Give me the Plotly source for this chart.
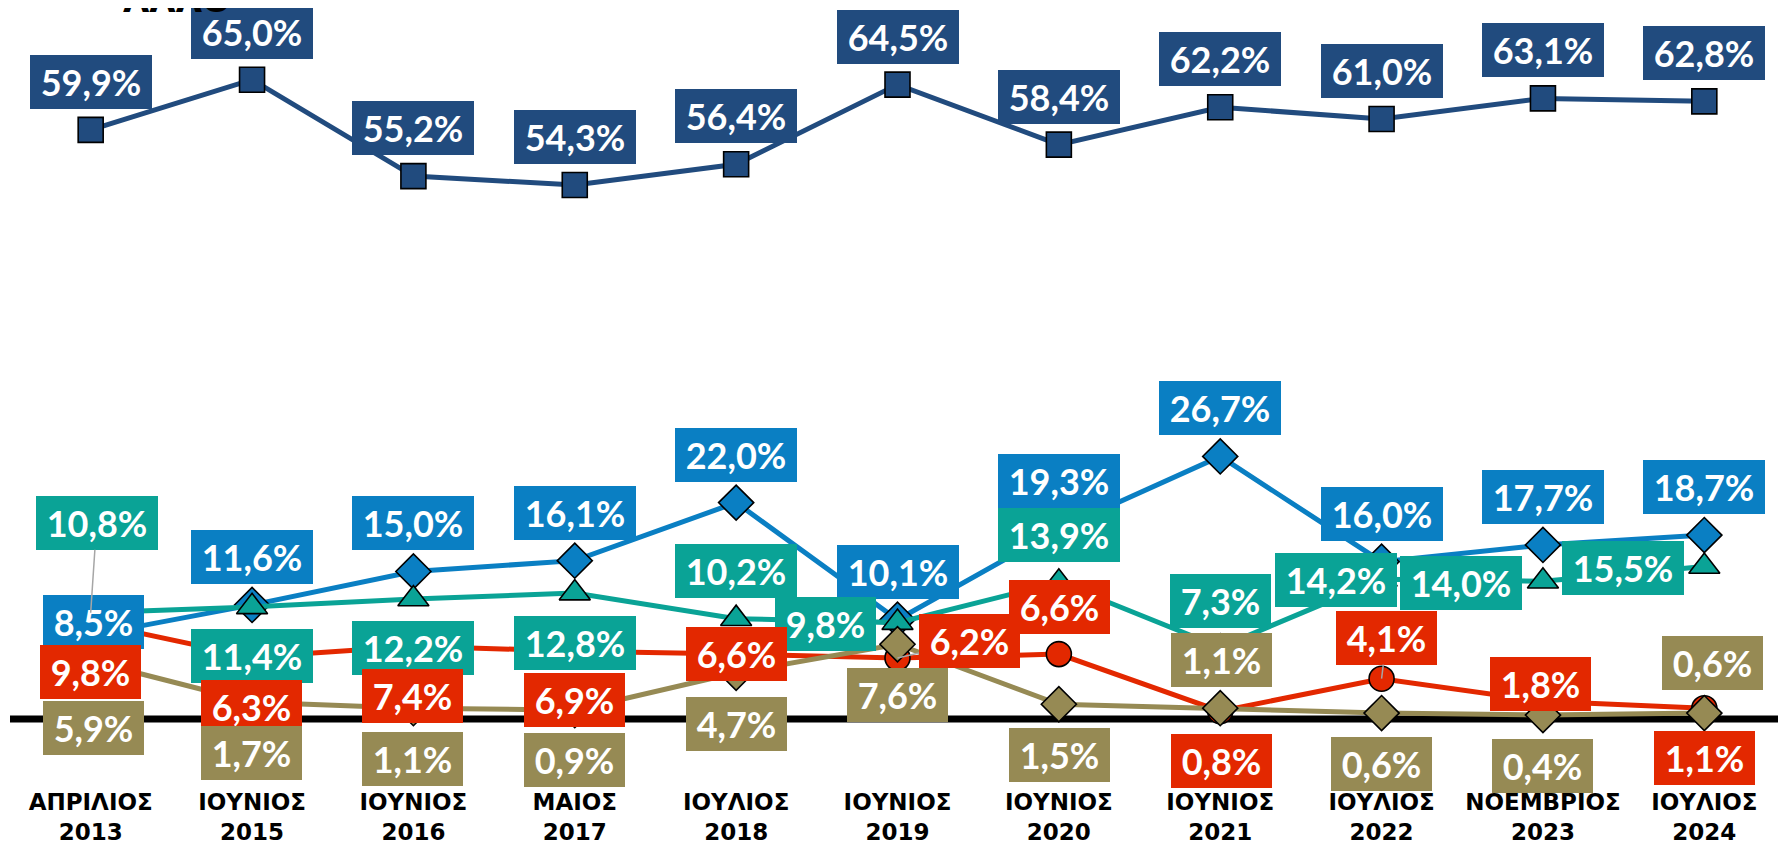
import plotly.graph_objects as go

# ---------------- data ----------------
categories = ["ΑΠΡΙΛΙΟΣ<br>2013", "ΙΟΥΝΙΟΣ<br>2015", "ΙΟΥΝΙΟΣ<br>2016", "ΜΑΙΟΣ<br>2017",
              "ΙΟΥΛΙΟΣ<br>2018", "ΙΟΥΝΙΟΣ<br>2019", "ΙΟΥΝΙΟΣ<br>2020", "ΙΟΥΝΙΟΣ<br>2021",
              "ΙΟΥΛΙΟΣ<br>2022", "ΝΟΕΜΒΡΙΟΣ<br>2023", "ΙΟΥΛΙΟΣ<br>2024"]
navy_vals = [59.9, 65.0, 55.2, 54.3, 56.4, 64.5, 58.4, 62.2, 61.0, 63.1, 62.8]
blue_vals = [8.5, 11.6, 15.0, 16.1, 22.0, 10.1, 19.3, 26.7, 16.0, 17.7, 18.7]
teal_vals = [10.8, 11.4, 12.2, 12.8, 10.2, 9.8, 13.9, 7.3, 14.2, 14.0, 15.5]
red_vals = [9.8, 6.3, 7.4, 6.9, 6.6, 6.2, 6.6, 0.8, 4.1, 1.8, 1.1]
olive_vals = [5.9, 1.7, 1.1, 0.9, 4.7, 7.6, 1.5, 1.1, 0.6, 0.4, 0.6]
legend_label = "ΑΛΛΟ"

# ---------------- styling / label placement (pixels) ----------------
NAVY = "#214B7E"
BLUE = "#0A7FC3"
TEAL = "#0AA396"
RED = "#E32800"
OLIVE = "#968A54"

navy_off = [(0, -48)] * 11
blue_off = [(3, -13)] + [(0, -48)] * 10
teal_off = [(6, -90), (0, 49), (0, 49), (0, 50), (0, -48), (-72, 1), (0, -47), (0, -46),
            (-46, 1), (-82, 2), (-81, 1)]
red_off = [(0, 49), (-1, 50), (-1, 50), (0, 49), (0, 0), (72, -17), (1, -47), (1, 50),
           (5, -41), (-2, -17), (0, 50)]
olive_off = [(3, 67), (-1, 51), (-1, 51), (0, 50), (0, 51), (0, 51), (1, 51), (1, -48),
             (0, 51), (0, 51), (8, -50)]
teal_leader = [0]
red_leader = [5, 8]

series = [
    ("navy", navy_vals, NAVY, "square", 25, navy_off, []),
    ("blue", blue_vals, BLUE, "diamond", 27, blue_off, []),
    ("teal", teal_vals, TEAL, "triangle-up", 27, teal_off, teal_leader),
    ("red", red_vals, RED, "circle", 25, red_off, red_leader),
    ("olive", olive_vals, OLIVE, "diamond", 27, olive_off, []),
]

fig = go.Figure()
annotations = []
for name, vals, color, sym, msize, offs, leaders in series:
    fig.add_trace(go.Scatter(
        x=categories, y=vals, mode="lines+markers", name=name,
        line=dict(color=color, width=5),
        marker=dict(symbol=sym, size=msize, color=color,
                    line=dict(color="black", width=1.6)),
        showlegend=False, cliponaxis=False,
    ))
for name, vals, color, sym, msize, offs, leaders in series:
    for i, v in enumerate(vals):
        txt = f"{v:.1f}%".replace(".", ",")
        w = 122 if len(txt) >= 5 else 101
        dx, dy = offs[i]
        common = dict(
            x=categories[i], y=v, xref="x", yref="y", text=txt,
            font=dict(family="Lato", size=36, color="white", weight=700),
            bgcolor=color, borderpad=0, borderwidth=0, width=w, height=54,
            align="center", valign="middle",
        )
        if i in leaders:
            annotations.append(dict(common, showarrow=True, ax=dx, ay=dy,
                                    arrowhead=0, arrowwidth=1.5, arrowcolor="#A6A6A6"))
        else:
            annotations.append(dict(common, showarrow=False, xshift=dx, yshift=-dy))

annotations.append(dict(
    text=legend_label, xref="paper", yref="paper", x=0.094, y=1.0,
    xanchor="center", yanchor="middle", yshift=8, showarrow=False,
    font=dict(family="DejaVu Sans", size=34, color="black", weight=700),
))

fig.update_layout(
    width=1786, height=847,
    margin=dict(l=2, r=9, t=0, b=125),
    paper_bgcolor="white", plot_bgcolor="white",
    annotations=annotations,
    shapes=[dict(type="line", xref="paper", yref="y", x0=0, x1=1, y0=0, y1=0,
                 line=dict(color="black", width=7), layer="below")],
    xaxis=dict(type="category", range=[-0.5, 10.5], showgrid=False, zeroline=False,
               showline=False, ticks="", ticklabelstandoff=56,
               tickfont=dict(family="DejaVu Sans", size=23, color="black", weight=700)),
    yaxis=dict(range=[-1.118, 72.29], showgrid=False, zeroline=False,
               showticklabels=False, showline=False, ticks=""),
)

fig.write_html("out.html")
